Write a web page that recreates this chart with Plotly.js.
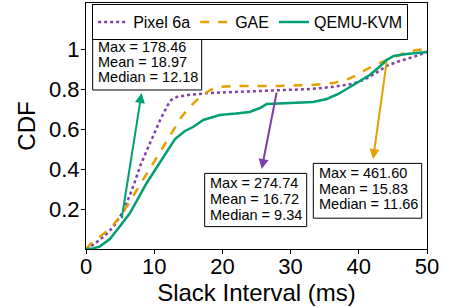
<!DOCTYPE html>
<html>
<head>
<meta charset="utf-8">
<script src="https://cdn.plot.ly/plotly-3.0.1.min.js"></script>
<style>html,body{margin:0;padding:0;background:#fff;}#chart{width:453px;height:308px;}</style>
</head>
<body>
<div id="chart"></div>
<script>
// Series names
var seriesNames = ["Pixel 6a", "GAE", "QEMU-KVM"];

// Pixel 6a CDF
var pixelX = [0, 1, 2, 3, 4, 5, 5.5, 7, 8, 9, 10, 11, 12, 12.5, 13.3, 15, 18, 22, 28, 33, 36, 39, 41, 43, 44, 46, 48, 50];
var pixelY = [0, 0.02, 0.045, 0.075, 0.11, 0.16, 0.19, 0.32, 0.42, 0.5, 0.58, 0.655, 0.72, 0.745, 0.76, 0.77, 0.78, 0.785, 0.79, 0.80, 0.81, 0.825, 0.85, 0.89, 0.915, 0.94, 0.96, 0.985];

// GAE CDF
var gaeX = [0, 1, 2, 3, 4, 5.5, 7, 8.9, 10.5, 12.8, 14, 15.2, 16.7, 18, 19.2, 22, 28, 33, 36.3, 38.2, 40, 41.2, 43, 44.1, 46, 47, 48.5, 50];
var gaeY = [0, 0.037, 0.06, 0.087, 0.12, 0.185, 0.27, 0.375, 0.46, 0.59, 0.66, 0.71, 0.76, 0.79, 0.81, 0.815, 0.815, 0.82, 0.83, 0.845, 0.875, 0.9, 0.93, 0.945, 0.97, 0.985, 0.995, 1.0];

// QEMU-KVM CDF
var qemuX = [0, 1, 2, 3.5, 5, 6.45, 8.9, 11, 13.05, 14.5, 15.7, 17.2, 19.6, 22, 24, 25.5, 26.5, 30, 33.3, 35.3, 37, 39.2, 41.6, 43, 44.1, 45.1, 47, 50];
var qemuY = [0, 0.003, 0.012, 0.05, 0.115, 0.18, 0.33, 0.44, 0.55, 0.59, 0.61, 0.645, 0.67, 0.677, 0.685, 0.705, 0.725, 0.73, 0.735, 0.75, 0.775, 0.82, 0.87, 0.91, 0.945, 0.965, 0.975, 0.985];

// Summary statistics per series
var statsMax = ["274.74", "461.60", "178.46"];
var statsMean = ["16.72", "15.83", "18.97"];
var statsMedian = ["9.34", "11.66", "12.18"];

// Tick labels
var xTicks = [0, 10, 20, 30, 40, 50];
var yTicks = [0.2, 0.4, 0.6, 0.8, 1];
var yTickText = ["0.2", "0.4", "0.6", "0.8", "1"];

var colors = ["#7E3FA8", "#E69F00", "#009E73"];
var FONT = "Liberation Sans, Arial, sans-serif";

var traces = [
  {x: pixelX, y: pixelY, name: seriesNames[0], mode: "lines", line: {color: colors[0], width: 2.5, dash: "dot"}},
  {x: gaeX, y: gaeY, name: seriesNames[1], mode: "lines", line: {color: colors[1], width: 2.5, dash: "dash"}},
  {x: qemuX, y: qemuY, name: seriesNames[2], mode: "lines", line: {color: colors[2], width: 2.5}}
];

// Box layout (data coords): [x0, x1, y0, y1], text left x, line y positions
var boxes = [
  {rect: [17.40, 32.36, 0.112, 0.378], tx: 18.08, ly: [0.3285, 0.25, 0.17]},
  {rect: [33.33, 49.22, 0.154, 0.428], tx: 34.05, ly: [0.3815, 0.30, 0.2235]},
  {rect: [0.98, 16.96, 0.795, 1.06], tx: 1.57, ly: [1.012, 0.937, 0.858]}
];
var arrows = [
  {tail: [28, 0.79], head: [25.76, 0.40]},
  {tail: [44.1, 0.94], head: [42.1, 0.45]},
  {tail: [5.2, 0.145], head: [8.15, 0.78]}
];

var annotations = [];
var shapes = [];
for (var i = 0; i < 3; i++) {
  var b = boxes[i];
  shapes.push({type: "rect", xref: "x", yref: "y", x0: b.rect[0], x1: b.rect[1], y0: b.rect[2], y1: b.rect[3],
    line: {color: "#000", width: 1}, fillcolor: "#fff", layer: "above"});
  var lines = ["Max = " + statsMax[i], "Mean = " + statsMean[i], "Median = " + statsMedian[i]];
  for (var k = 0; k < 3; k++) {
    annotations.push({
      xref: "x", yref: "y", x: b.tx, y: b.ly[k], xanchor: "left", yanchor: "middle",
      showarrow: false, text: lines[k], font: {family: FONT, size: 14.5, color: "#000"}, borderpad: 0
    });
  }
  annotations.push({
    xref: "x", yref: "y", axref: "x", ayref: "y",
    x: arrows[i].head[0], y: arrows[i].head[1],
    ax: arrows[i].tail[0], ay: arrows[i].tail[1],
    text: "", showarrow: true, arrowhead: 2, arrowsize: 1, arrowwidth: 2,
    arrowcolor: colors[i], standoff: 0, startstandoff: 0
  });
}

var layout = {
  width: 453, height: 308,
  margin: {l: 86, r: 26, t: 3, b: 59},
  paper_bgcolor: "#fff", plot_bgcolor: "#fff",
  font: {family: FONT, color: "#000"},
  showlegend: true,
  legend: {
    orientation: "h", x: 0.018, y: 0.996, xanchor: "left", yanchor: "top",
    bordercolor: "#000", borderwidth: 1, bgcolor: "#fff",
    font: {family: FONT, size: 16, color: "#000"}
  },
  xaxis: {
    range: [0, 50], tickvals: xTicks, ticks: "outside", ticklen: 4, tickcolor: "#000",
    showline: true, mirror: true, linecolor: "#000", linewidth: 1,
    showgrid: false, zeroline: false, ticklabelstandoff: -6,
    tickfont: {family: FONT, size: 22, color: "#000"},
    title: {text: "Slack Interval (ms)", font: {family: FONT, size: 24, color: "#000"}, standoff: 0}
  },
  yaxis: {
    range: [0, 1.23], tickvals: yTicks, ticktext: yTickText, ticks: "outside", ticklen: 4, tickcolor: "#000",
    showline: true, mirror: true, linecolor: "#000", linewidth: 1,
    showgrid: false, zeroline: false, ticklabelstandoff: -3,
    tickfont: {family: FONT, size: 22, color: "#000"},
    title: {text: "CDF", font: {family: FONT, size: 24, color: "#000"}, standoff: 6}
  },
  shapes: shapes,
  annotations: annotations
};

Plotly.newPlot("chart", traces, layout, {displayModeBar: false, staticPlot: true});
</script>
</body>
</html>
